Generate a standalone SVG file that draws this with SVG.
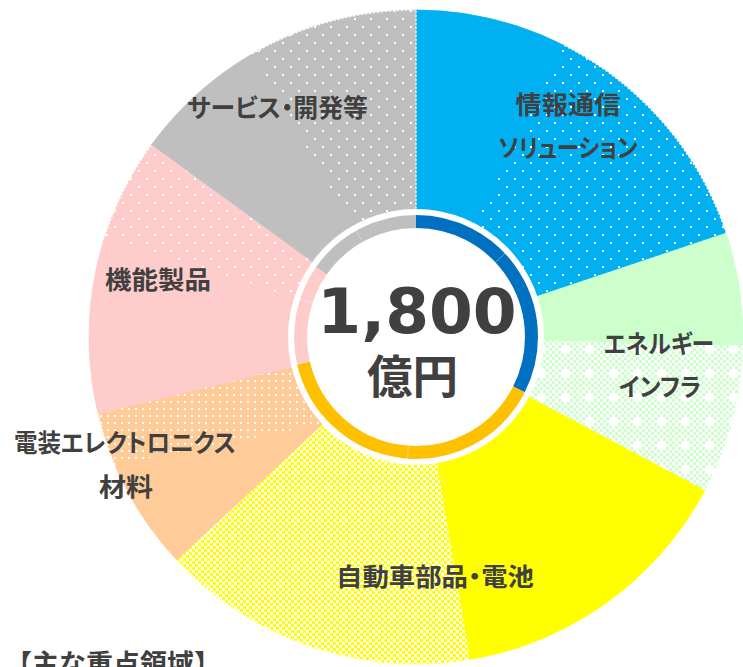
<svg xmlns="http://www.w3.org/2000/svg" width="743" height="667" viewBox="0 0 743 667">
<style>
.blue{fill:#00B0F0;stroke:#00B0F0;stroke-width:0.8}
.green{fill:#CCFFCC;stroke:#CCFFCC;stroke-width:0.8}
.yellow{fill:#FFFF00;stroke:#FFFF00;stroke-width:0.8}
.orange{fill:#FFCC99;stroke:#FFCC99;stroke-width:0.8}
.pink{fill:#FFCCCC;stroke:#FFCCCC;stroke-width:0.8}
.gray{fill:#BFBFBF;stroke:#BFBFBF;stroke-width:0.8}
.ov{stroke:none}
.edge{fill:none;stroke:#FFFFFF;stroke-width:1.2;stroke-dasharray:2 2}
.ring{fill:none;stroke-width:13}
.sep{stroke:#FFFFFF;stroke-opacity:0.35;stroke-width:1}
.lb{font-family:"Noto Sans CJK JP","Noto Sans",sans-serif;font-weight:700;font-size:25px;fill:#404040;text-anchor:middle;font-feature-settings:"palt"}
.num{font-family:"DejaVu Sans","Liberation Sans",sans-serif;font-weight:700;font-size:63px;fill:#404040;text-anchor:middle}
.unit{font-family:"Noto Sans CJK JP",sans-serif;font-weight:700;font-size:46px;fill:#404040;text-anchor:middle}
.title{font-family:"Noto Sans CJK JP",sans-serif;font-weight:700;font-size:27px;fill:#404040}
</style>
<defs>
<pattern id="dots" width="16" height="16" patternUnits="userSpaceOnUse"><rect x="2" y="2" width="2" height="2" fill="#FFFFFF"/><rect x="10" y="10" width="2" height="2" fill="#FFFFFF"/></pattern>
<pattern id="dotsDense" width="7" height="7" patternUnits="userSpaceOnUse"><rect x="2" y="2" width="2" height="2" fill="#FFFFFF"/></pattern>
<pattern id="checker" width="6" height="6" patternUnits="userSpaceOnUse"><rect width="3" height="3" fill="#FFFFFF"/><rect x="3" y="3" width="3" height="3" fill="#FFFFFF"/></pattern>
<pattern id="grid" width="24" height="24" patternUnits="userSpaceOnUse"><rect width="24" height="24" fill="url(#checker)"/><rect x="9" y="12" width="3" height="3" fill="#FFFFFF"/><rect x="15" y="12" width="3" height="3" fill="#FFFFFF"/><rect x="12" y="9" width="3" height="3" fill="#FFFFFF"/><rect x="12" y="15" width="3" height="3" fill="#FFFFFF"/></pattern>
</defs>

<g id="connectors"/>

<g id="info">
<path class="blue" d="M416,337 L416,10 A327,327 0 0 1 726.1,233.2 Z"/>
<path class="ov" fill="url(#dots)" d="M416,337 L564.5,45.6 A327,327 0 0 1 726.1,233.2 Z"/>
<path class="edge" d="M564.5,45.6 A327,327 0 0 1 726.1,233.2"/>
</g>
<g id="energy">
<path class="green" d="M416,337 L726.1,233.2 A327,327 0 0 1 704.7,490.5 Z"/>
<path class="ov" fill="url(#grid)" d="M416,337 L742.9,345.6 A327,327 0 0 1 704.7,490.5 Z"/>
<path class="edge" d="M742.9,345.6 A327,327 0 0 1 704.7,490.5"/>
</g>
<g id="auto">
<path class="yellow" d="M416,337 L704.7,490.5 A327,327 0 0 1 176.8,560 Z"/>
<path class="ov" fill="url(#checker)" d="M416,337 L470,659.5 A327,327 0 0 1 176.8,560 Z"/>
<path class="edge" d="M470,659.5 A327,327 0 0 1 176.8,560"/>
</g>
<g id="elec">
<path class="orange" d="M416,337 L176.8,560 A327,327 0 0 1 98,413.3 Z"/>
<path class="ov" fill="url(#dotsDense)" d="M322.4,424.3 L115,464.8 A327,327 0 0 1 98,413.3 L416,337 Z"/>
<path class="edge" d="M115,464.8 A327,327 0 0 1 98,413.3"/>
</g>
<g id="func">
<path class="pink" d="M416,337 L98,413.3 A327,327 0 0 1 151.5,144.8 Z"/>
<path class="ov" fill="url(#dots)" d="M416,337 L105,236 A327,327 0 0 1 151.5,144.8 Z"/>
<path class="edge" d="M105,236 A327,327 0 0 1 151.5,144.8 L312,261"/>
</g>
<g id="service">
<path class="gray" d="M416,337 L151.5,144.8 A327,327 0 0 1 416,10 Z"/>
<path class="ov" fill="url(#dots)" d="M416,337 L252.5,53.8 A327,327 0 0 1 416,10 Z"/>
<path class="edge" d="M252.5,53.8 A327,327 0 0 1 416,10 L416,209"/>
</g>

<g id="center">
<circle cx="416" cy="337" r="128" fill="#FFFFFF"/>
<path class="ring" stroke="#0070C0" d="M416,221.5 A115.5,115.5 0 0 1 518.9,389.4"/>
<path class="ring" stroke="#FFC000" d="M518.9,389.4 A115.5,115.5 0 0 1 303.5,363"/>
<path class="ring" stroke="#FFCCCC" d="M303.5,363 A115.5,115.5 0 0 1 321.4,270.8"/>
<path class="ring" stroke="#BFBFBF" d="M321.4,270.8 A115.5,115.5 0 0 1 416,221.5"/>
<line class="sep" x1="495.5" y1="262.4" x2="504.9" y2="253.5"/>
<line class="sep" x1="408.4" y1="445.7" x2="407.5" y2="458.7"/>
<line class="sep" x1="312.3" y1="303.3" x2="300" y2="299.3"/>
<line class="sep" x1="362.5" y1="242" x2="356.1" y2="230.7"/>
<text class="num" x="417" y="333">1,800</text>
<text class="unit" x="412.5" y="393" textLength="91" lengthAdjust="spacingAndGlyphs">億円</text>
</g>

<g id="labels">
<text class="lb" x="568" y="114" textLength="105" lengthAdjust="spacingAndGlyphs">情報通信</text>
<text class="lb" x="568" y="157" textLength="139" lengthAdjust="spacingAndGlyphs">ソリューション</text>
<text class="lb" x="659" y="353" textLength="110" lengthAdjust="spacingAndGlyphs">エネルギー</text>
<text class="lb" x="660" y="396" textLength="82" lengthAdjust="spacingAndGlyphs">インフラ</text>
<text class="lb" x="435" y="586" textLength="198" lengthAdjust="spacingAndGlyphs">自動車部品・電池</text>
<text class="lb" x="125" y="452" textLength="222" lengthAdjust="spacingAndGlyphs">電装エレクトロニクス</text>
<text class="lb" x="126" y="496" textLength="54" lengthAdjust="spacingAndGlyphs">材料</text>
<text class="lb" x="158" y="289" textLength="106" lengthAdjust="spacingAndGlyphs">機能製品</text>
<text class="lb" x="277.5" y="117" textLength="181" lengthAdjust="spacingAndGlyphs">サービス・開発等</text>
</g>

<text class="title" x="5" y="674">【主な重点領域】</text>
</svg>
